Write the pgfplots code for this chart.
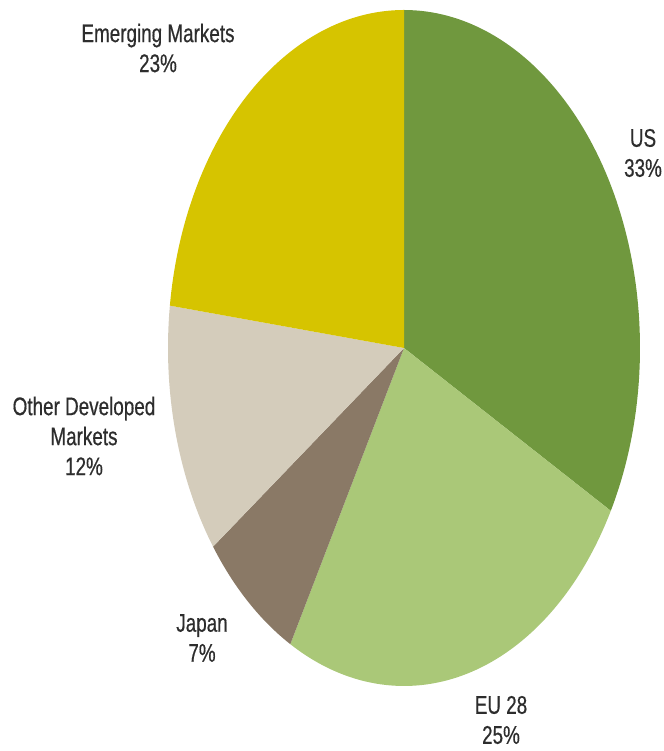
\documentclass[border=0pt]{standalone}
\usepackage{fontspec}
\setmainfont{Liberation Sans}[FakeStretch=0.74, FakeBold=0.5]
\usepackage{pgfplots}
\pgfplotsset{compat=1.18}
\definecolor{usc}{RGB}{112,152,62}
\definecolor{euc}{RGB}{170,200,120}
\definecolor{jpc}{RGB}{138,121,102}
\definecolor{odc}{RGB}{212,204,187}
\definecolor{emc}{RGB}{214,196,0}
\definecolor{txt}{RGB}{45,45,45}
% slice shares in percent (clockwise from 12 o'clock): US 33, EU 28 25, Japan 7, Other Developed 12, Emerging 23
\begin{document}
\begin{tikzpicture}
\begin{axis}[
  scale only axis, width=663pt, height=751pt,
  xmin=0, xmax=663, ymin=0, ymax=751,
  hide axis, clip=false,
  trig format plots=deg,
  every axis plot/.append style={draw=none, samples=90, variable=\t},
]
% centre (404,403), radii 236 x 338; angle = 90 - 3.6*cumulative percent
\addplot[fill=usc, domain={90-3.6*33}:{90-3.6*0}]  ({404+236*cos(\t)},{403+338*sin(\t)}) -- (axis cs:404,403) -- cycle;
\addplot[fill=euc, domain={90-3.6*58}:{90-3.6*33}] ({404+236*cos(\t)},{403+338*sin(\t)}) -- (axis cs:404,403) -- cycle;
\addplot[fill=jpc, domain={90-3.6*65}:{90-3.6*58}] ({404+236*cos(\t)},{403+338*sin(\t)}) -- (axis cs:404,403) -- cycle;
\addplot[fill=odc, domain={90-3.6*77}:{90-3.6*65}] ({404+236*cos(\t)},{403+338*sin(\t)}) -- (axis cs:404,403) -- cycle;
\addplot[fill=emc, domain={90-3.6*100}:{90-3.6*77}] ({404+236*cos(\t)},{403+338*sin(\t)}) -- (axis cs:404,403) -- cycle;
\path (rel axis cs:0,0) (rel axis cs:1,1);
\tikzset{lbl/.style={text=txt, align=center, font=\fontsize{25.5}{30}\selectfont, inner sep=0pt}}
\node[lbl] at (axis cs:158,703) {Emerging Markets\\23\%};
\node[lbl] at (axis cs:643,598) {US\\33\%};
\node[lbl] at (axis cs:84,315) {Other Developed\\Markets\\12\%};
\node[lbl] at (axis cs:202,113) {Japan\\7\%};
\node[lbl] at (axis cs:501,31) {EU 28\\25\%};
\end{axis}
\end{tikzpicture}
\end{document}
